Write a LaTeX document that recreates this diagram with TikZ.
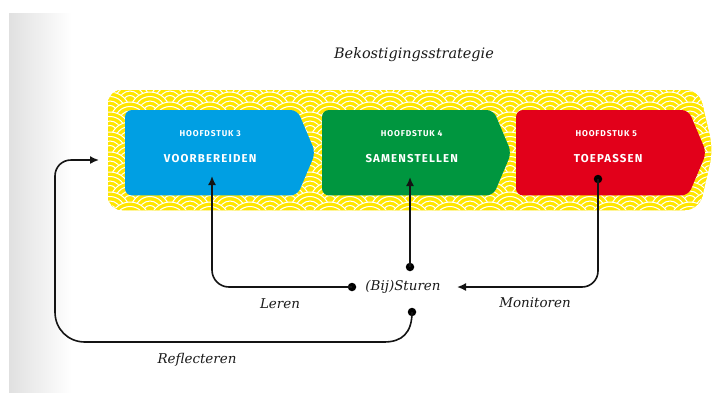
\documentclass[tikz,border=0pt]{standalone}
\usepackage{fontspec}
\setmainfont{DejaVu Serif}
\newfontfamily\boxfont[LetterSpace=10]{Fira Sans}
\usetikzlibrary{arrows.meta,calc,backgrounds}
\definecolor{bandyellow}{HTML}{FFE600}
\definecolor{stageblue}{HTML}{009FE3}
\definecolor{stagegreen}{HTML}{00963F}
\definecolor{stagered}{HTML}{E2001A}
\definecolor{inkgray}{HTML}{1A1A1A}

\begin{document}
\begin{tikzpicture}[x=1bp,y=-1bp,
  stagebox/.style={minimum width=172bp, minimum height=85bp, inner sep=0pt, anchor=north west},
  kicker/.style={font=\boxfont\bfseries\fontsize{8.5}{9}\selectfont, text=white, inner sep=0pt},
  stagetitle/.style={font=\boxfont\bfseries\fontsize{11.5}{12}\selectfont, text=white, inner sep=0pt},
  flowlabel/.style={font=\itshape\fontsize{13.5}{15}\selectfont, text=inkgray, inner sep=0pt},
  conn/.style={line width=1.6bp, draw=black!92},
  arrowend/.style={-{Latex[length=9bp,width=8bp]}},
  joint/.style={circle, fill=black, inner sep=0pt, minimum size=8.5bp},
]
\useasboundingbox (0,0) rectangle (718,392);

% stage nodes (the chevron fills are drawn behind them)
\node[stagebox] (voorb) at (125,110) {};
\node[stagebox, minimum width=171bp] (samen) at (322,110) {};
\node[stagebox] (toep) at (516,110) {};

\node[kicker] (voorb-k) at ($(voorb.center)+(-1,-19)$) {HOOFDSTUK 3};
\node[stagetitle] (voorb-t) at ($(voorb.center)+(-1,6)$) {VOORBEREIDEN};
\node[kicker] (samen-k) at ($(samen.center)+(4,-19)$) {HOOFDSTUK 4};
\node[stagetitle] (samen-t) at ($(samen.center)+(4,6)$) {SAMENSTELLEN};
\node[kicker] (toep-k) at ($(toep.center)+(4,-19)$) {HOOFDSTUK 5};
\node[stagetitle] (toep-t) at ($(toep.center)+(6,6)$) {TOEPASSEN};

\begin{scope}[on background layer]
  % page edge shading
  \shade[left color=black!12, right color=white] (9,13) rectangle (72,392);
  % patterned band
  \begin{scope}
    \clip[rounded corners=14] (108,90) -- (699,90) -- (713,150) -- (699,210) -- (108,210) -- cycle;
    \fill[bandyellow] (100,80) rectangle (720,220);
    \foreach \r in {0,...,16} {
      \pgfmathsetmacro\yy{82+10*\r}
      \pgfmathsetmacro\off{mod(\r,2)*20}
      \foreach \c in {0,...,16} {
        \pgfmathsetmacro\xx{90+\off+40*\c}
        \fill[bandyellow] (\xx,\yy) circle (20);
        \foreach \rr in {20,15.5,11,6.5}
          \draw[white, line width=1bp] (\xx,\yy) circle (\rr);
      }
    }
  \end{scope}
  % chevron stages
  \foreach \n/\c in {voorb/stageblue, samen/stagegreen, toep/stagered}
    \fill[\c, rounded corners=7] (\n.north west) -- (\n.north east)
      -- ($(\n.east)+(18,0)$) -- (\n.south east) -- (\n.south west) -- cycle;
\end{scope}

% title
\node[font=\itshape\fontsize{14.5}{17}\selectfont, text=inkgray] (title) at (414,55) {Bekostigingsstrategie};

% steering hub
\node[flowlabel] (sturen) at (403,287) {(Bij)Sturen};
\node[joint] (sL) at (352,287) {};
\node[joint] (sT) at (410,267) {};
\node[joint] (sB) at (412,312) {};
\node[joint] (rdot) at (598,179) {};
\coordinate (sR) at (457,287);
\coordinate (vin) at (212,176);
\coordinate (gin) at (410,177);
\coordinate (rin) at (99,160);

% connectors
\draw[conn, arrowend, rounded corners=17] (sL.center) -| (vin);
\draw[conn, arrowend] (sT.center) -- (gin);
\draw[conn, arrowend, rounded corners=16] (rdot.center) |- (sR);
\draw[conn, arrowend] (sB.center) .. controls (412,333) and (402,342) .. (384,342)
  -- (85,342) .. controls (68,342) and (55,329) .. (55,312)
  -- (55,176) .. controls (55,167) and (62,160) .. (71,160) -- (rin);

% labels
\node[flowlabel] (leren) at (280,304) {Leren};
\node[flowlabel] (monitoren) at (535,303) {Monitoren};
\node[flowlabel] (reflecteren) at (197,360) {Reflecteren};
\end{tikzpicture}
\end{document}
